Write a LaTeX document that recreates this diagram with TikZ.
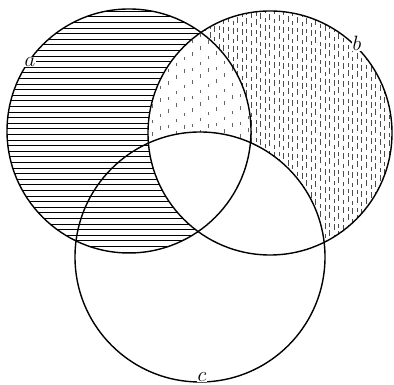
\documentclass[tikz,border=0pt]{standalone}
\usetikzlibrary{positioning}
\begin{document}
\begin{tikzpicture}[
  x=1pt, y=1pt,
  ring/.style={line width=1.4pt},
  hline/.style={line width=0.7pt},
  vdense/.style={line width=0.45pt, black!70, dash pattern=on 6pt off 3pt on 4pt off 5pt},
  vsparse/.style={line width=0.45pt, black!60, dash pattern=on 4pt off 9pt on 3pt off 12pt},
  lbl/.style={font=\huge, fill=white, inner sep=0.6pt},
]
\useasboundingbox (0,0) rectangle (394,385);
\coordinate (ca) at (129,254);
\coordinate (cb) at (270,252);
\coordinate (cc) at (200,128);

% ---- horizontal hatching: a without b
\begin{scope}[even odd rule]
\clip (ca) circle (122);
\clip (0,0) rectangle (394,385) (cb) circle (122);
\foreach \y in {133,138.6,...,380}
  \draw[hline] (0,\y) -- (260,\y);
\end{scope}

% ---- vertical hatching: b without a, c
\begin{scope}[even odd rule]
\clip (cb) circle (122);
\clip (0,0) rectangle (394,385) (cc) circle (125);
\clip (0,0) rectangle (394,385) (ca) circle (122);
\foreach \x [count=\i, evaluate=\i as \ph using {mod(\i*7,13)}] in {150,154.6,...,394}
  \draw[vdense, dash phase=\ph pt] (\x,120) -- (\x,385);
\end{scope}

% ---- lighter vertical hatching: a and b without c
\begin{scope}[even odd rule]
\clip (cb) circle (122);
\clip (ca) circle (122);
\clip (0,0) rectangle (394,385) (cc) circle (125);
\foreach \x [count=\i, evaluate=\i as \ph using {mod(\i*11,17)}] in {152,160,...,252}
  \draw[vsparse, dash phase=\ph pt] (\x,120) -- (\x,385);
\end{scope}

% ---- circles
\draw[ring] (ca) circle (122);
\draw[ring] (cb) circle (122);
\draw[ring] (cc) circle (125);

% ---- labels
\node[lbl] (la) at (30,323) {$a$};
\node[lbl] (lb) at (357,342) {$b$};
\node[lbl] (lc) at (202,8) {$c$};
\end{tikzpicture}
\end{document}
